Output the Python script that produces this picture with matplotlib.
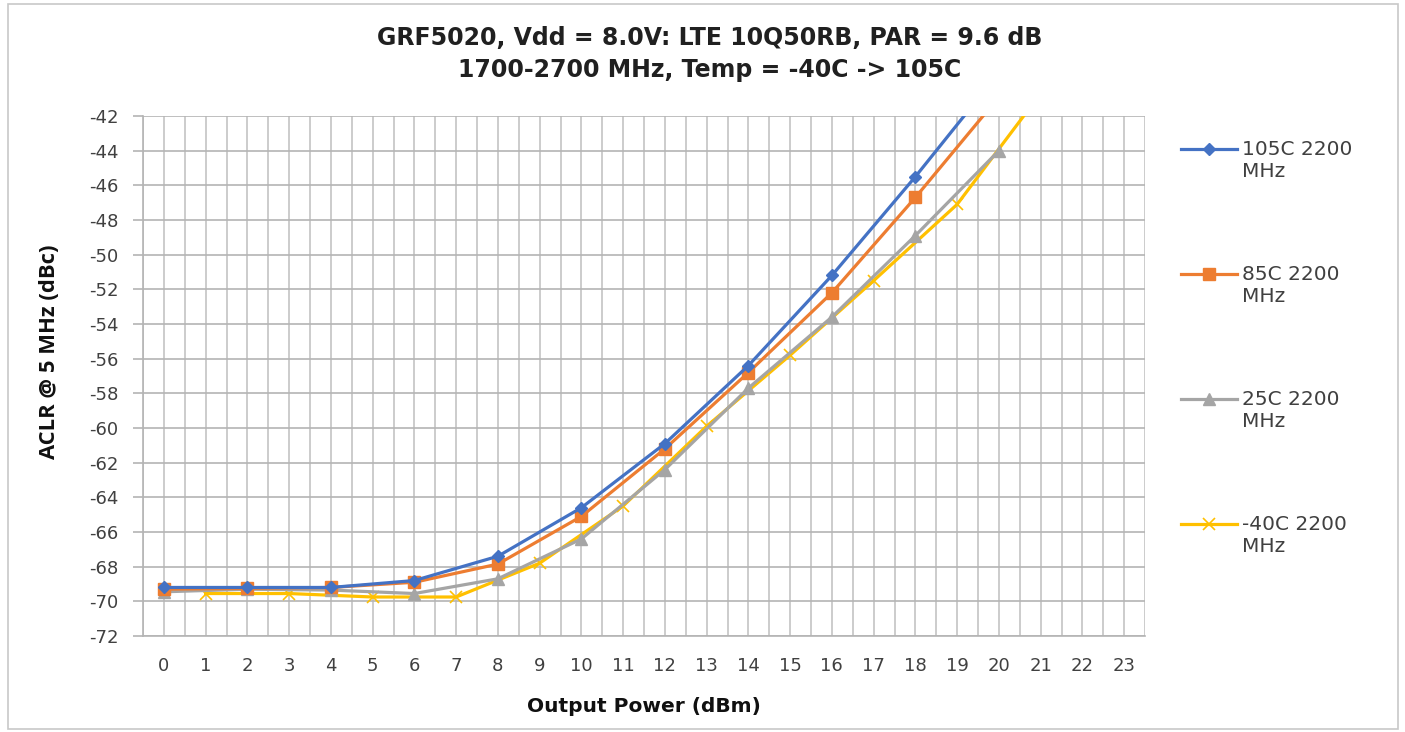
import matplotlib
matplotlib.use("Agg")
import matplotlib.pyplot as plt
from matplotlib.ticker import MultipleLocator

plt.rcParams['font.family'] = ['DejaVu Sans']
plt.rcParams['axes.unicode_minus'] = False

# even output power points (105C / 85C / 25C)
p_even = [0, 2, 4, 6, 8, 10, 12, 14, 16, 18, 20]
aclr_105 = [-69.2, -69.2, -69.2, -68.8, -67.4, -64.6, -60.9, -56.4, -51.2, -45.5, -39.5]
aclr_85 = [-69.3, -69.25, -69.2, -68.9, -67.85, -65.1, -61.2, -56.8, -52.2, -46.7, -40.9]
aclr_25 = [-69.45, -69.3, -69.35, -69.55, -68.7, -66.4, -62.4, -57.7, -53.6, -48.9, -44.0]
# odd output power points (-40C)
p_odd = [1, 3, 5, 7, 9, 11, 13, 15, 17, 19, 21]
aclr_m40 = [-69.55, -69.55, -69.75, -69.75, -67.8, -64.5, -59.9, -55.8, -51.5, -47.1, -40.7]

labels = ['105C 2200\nMHz', '85C 2200\nMHz', '25C 2200\nMHz', '-40C 2200\nMHz']

W, H = 1405, 732
fig = plt.figure(figsize=(W / 100, H / 100), dpi=100)
ax = fig.add_axes([143 / W, 1 - 636 / H, (1145 - 143) / W, (636 - 116) / H])

ax.plot(p_even, aclr_105, color='#4472C4', lw=2.3, marker='D', ms=6, label=labels[0], zorder=5)
ax.plot(p_even, aclr_85, color='#ED7D31', lw=2.3, marker='s', ms=8, label=labels[1], zorder=4)
ax.plot(p_even, aclr_25, color='#A5A5A5', lw=2.3, marker='^', ms=8, label=labels[2], zorder=3)
ax.plot(p_odd, aclr_m40, color='#FFC000', lw=2.3, marker='x', ms=9, mew=1.2, label=labels[3], zorder=2)

ax.set_xlim(-0.5, 23.5)
ax.set_ylim(-72, -42)
ax.xaxis.set_major_locator(MultipleLocator(1))
ax.xaxis.set_minor_locator(MultipleLocator(0.5))
ax.yaxis.set_major_locator(MultipleLocator(2))
ax.grid(True, which='both', axis='x', color='#C4C4C4', lw=1.2)
ax.grid(True, which='major', axis='y', color='#B4B4B4', lw=1.2)
ax.set_axisbelow(True)
ax.tick_params(axis='x', which='both', length=0, labelsize=13, colors='#404040', pad=15)
ax.tick_params(axis='y', length=7.5, width=1.2, color='#B4B4B4', labelsize=13,
               labelcolor='#404040', pad=10)
for s in ['top', 'right']:
    ax.spines[s].set_visible(False)
for s in ['left', 'bottom']:
    ax.spines[s].set_color('#B4B4B4')
    ax.spines[s].set_linewidth(1.2)

ax.set_xlabel('Output Power (dBm)', fontsize=14.5, fontweight='bold', color='#101010')
ax.xaxis.set_label_coords(0.5, (636 - 707) / 520)
ax.xaxis.label.set_va('center')
ax.set_ylabel('ACLR @ 5 MHz (dBc)', fontsize=15.8, fontweight='bold', color='#101010',
              family=['Open Sans', 'DejaVu Sans'])
ax.yaxis.set_label_coords((50 - 143) / 1002, (636 - 352) / 520)
ax.yaxis.label.set_va('center')

fig.text(710 / W, 1 - 54 / H,
         'GRF5020, Vdd = 8.0V: LTE 10Q50RB, PAR = 9.6 dB\n1700-2700 MHz, Temp = -40C -> 105C',
         ha='center', va='center', fontsize=17, fontweight='bold', linespacing=1.4,
         color='#202020')

leg = fig.legend(loc='upper left', bbox_to_anchor=(1181 / W, 1 - 140 / H), frameon=False,
                 fontsize=14.5, labelspacing=4.17, handlelength=2.8, handletextpad=0.25,
                 borderpad=0, borderaxespad=0)
for t in leg.get_texts():
    t.set_color('#404040')
# put the legend line next to the first text line, as in the original
for h in leg.legend_handles:
    h.set_ydata(h.get_ydata() + 8.5)

fig.patches.append(plt.Rectangle((8 / W, 3 / H), (1398 - 8) / W, (728 - 3) / H,
                                 transform=fig.transFigure, fill=False,
                                 edgecolor='#C8C8C8', lw=1.2))

fig.savefig('out.png', dpi=100)
